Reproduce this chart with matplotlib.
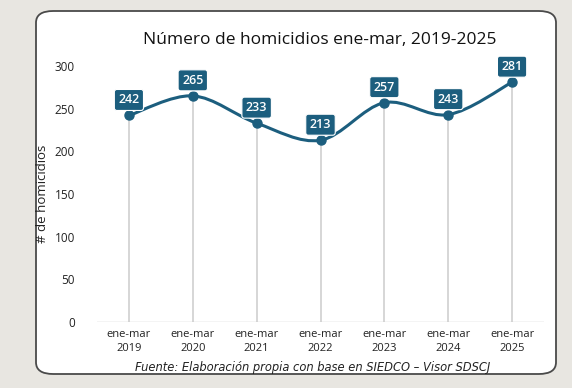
import numpy as np
import matplotlib.pyplot as plt
from matplotlib.path import Path
from matplotlib.patches import PathPatch, FancyBboxPatch

periodos = ["ene-mar\n2019", "ene-mar\n2020", "ene-mar\n2021", "ene-mar\n2022",
            "ene-mar\n2023", "ene-mar\n2024", "ene-mar\n2025"]
homicidios = [242, 265, 233, 213, 257, 243, 281]
y_ticks = [0, 50, 100, 150, 200, 250, 300]

azul = "#1c5e7e"
plt.rcParams['font.family'] = ['Open Sans', 'DejaVu Sans']

fig = plt.figure(figsize=(5.72, 3.88), dpi=100)
fig.patch.set_facecolor("#e8e6e1")

# white card with rounded corners
card = FancyBboxPatch((36 / 572, 1 - 374 / 388), 520 / 572, 363 / 388,
                      boxstyle="round,pad=0,rounding_size=0.03",
                      transform=fig.transFigure, facecolor="white",
                      edgecolor="#4a4a4a", linewidth=1.3, zorder=-5)
fig.patches.append(card)

ax = fig.add_axes([97 / 572, 66 / 388, 447 / 572, 256 / 388])
ax.set_facecolor("none")
ax.set_zorder(2)

x = np.arange(len(homicidios))
y = np.array(homicidios, dtype=float)

# smooth line (catmull-rom -> cubic bezier)
verts = [(x[0], y[0])]
codes = [Path.MOVETO]
t = 1 / 6
for i in range(len(x) - 1):
    p0 = np.array([x[max(i - 1, 0)], y[max(i - 1, 0)]])
    p1 = np.array([x[i], y[i]])
    p2 = np.array([x[i + 1], y[i + 1]])
    p3 = np.array([x[min(i + 2, len(x) - 1)], y[min(i + 2, len(x) - 1)]])
    c1 = p1 + (p2 - p0) * t
    c2 = p2 - (p3 - p1) * t
    verts += [tuple(c1), tuple(c2), tuple(p2)]
    codes += [Path.CURVE4] * 3
ax.add_patch(PathPatch(Path(verts, codes), facecolor="none", edgecolor=azul,
                       linewidth=2.2, zorder=3, clip_on=False))

ax.vlines(x, 0, y, color="#cccccc", linewidth=1.1, zorder=1)
ax.axhline(0, color="#c8c8c8", linewidth=1.0, zorder=1)
ax.plot(x, y, "o", color=azul, markersize=6.5, zorder=4, clip_on=False)

for xi, yi in zip(x, homicidios):
    ax.annotate(str(yi), (xi, yi), xytext=(0, 6.5), textcoords="offset points",
                ha="center", va="bottom", color="white", fontsize=9,
                fontweight="semibold",
                bbox=dict(boxstyle="round,pad=0.32,rounding_size=0.2",
                          facecolor=azul, edgecolor="white", linewidth=0.8),
                zorder=5, annotation_clip=False)

ax.set_xlim(-0.5, len(x) - 0.5)
ax.set_ylim(0, 300)
ax.set_yticks(y_ticks)
ax.set_xticks(x)
ax.set_xticklabels(periodos, fontsize=8, color="#222222", linespacing=1.35)
ax.tick_params(axis="y", length=0, pad=16, labelsize=8.5, labelcolor="#222222")
ax.tick_params(axis="x", length=0, pad=5)
for s in ax.spines.values():
    s.set_visible(False)

ax.set_ylabel("# de homicidios", fontsize=9.5, color="#222222", labelpad=4)
fig.text(320 / 572, 1 - 40 / 388, "Número de homicidios ene-mar, 2019-2025",
         ha="center", va="center", fontsize=12.5, color="#111111")
fig.text(313 / 572, 1 - 368 / 388, "Fuente: Elaboración propia con base en SIEDCO – Visor SDSCJ",
         ha="center", va="center", fontsize=8.3, style="italic", color="#222222",
         family=["DejaVu Sans"])

fig.savefig("out.png", dpi=100, facecolor=fig.get_facecolor())
